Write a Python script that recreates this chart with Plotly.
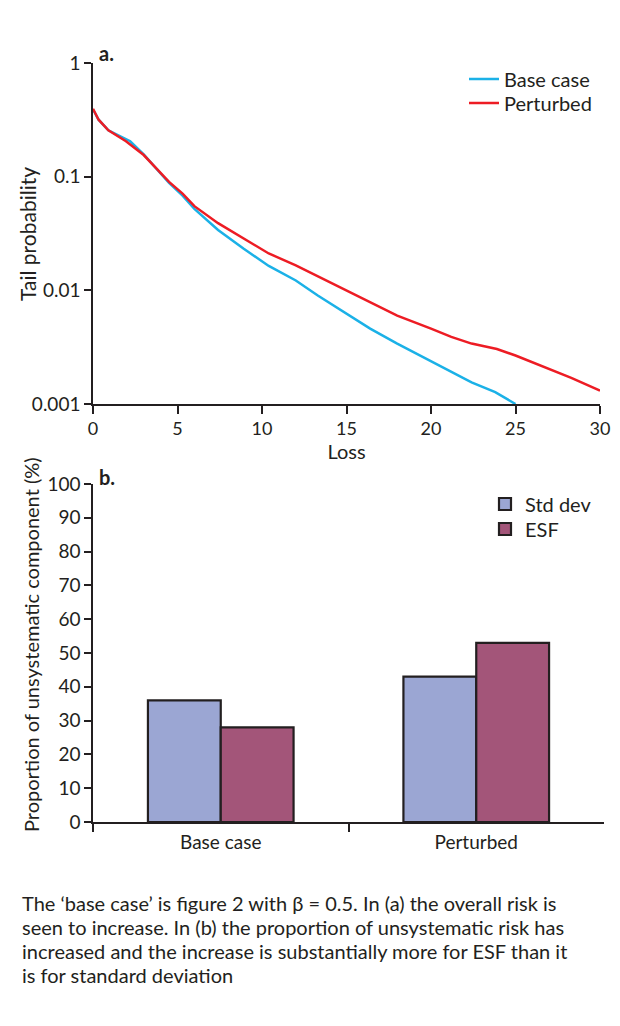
import plotly.graph_objects as go

# ---- Panel a data ----
loss_base = [0, 0.33, 0.91, 1.95, 2.2, 3.0, 4.5, 5.3, 6.0, 7.4, 8.9, 10.4, 12.0, 13.3,
             15.0, 16.4, 18.0, 20.0, 21.2, 22.4, 23.8, 25.0]
tail_base = [0.39, 0.317, 0.256, 0.212, 0.205, 0.157, 0.088, 0.068, 0.052, 0.034, 0.0233,
             0.0164, 0.0122, 0.0090, 0.0062, 0.0046, 0.0034, 0.00237, 0.0019, 0.00155,
             0.00127, 0.001]
loss_pert = [0, 0.33, 0.91, 1.95, 3.0, 4.5, 5.3, 6.0, 7.4, 8.9, 10.4, 12.0, 13.3, 15.0,
             16.4, 18.0, 20.0, 21.2, 22.4, 23.9, 25.0, 26.8, 28.3, 30.0]
tail_pert = [0.396, 0.317, 0.256, 0.205, 0.155, 0.09, 0.071, 0.055, 0.039, 0.0286, 0.0211,
             0.0166, 0.0133, 0.010, 0.0079, 0.0060, 0.0046, 0.0039, 0.0034, 0.00305,
             0.00267, 0.0021, 0.0017, 0.00131]
y_tickvals = [1, 0.1, 0.01, 0.001]
y_ticktext = ["1", "0.1", "0.01", "0.001"]
x_tickvals = [0, 5, 10, 15, 20, 25, 30]

# ---- Panel b data ----
categories = ["Base case", "Perturbed"]
std_dev = [36, 43]
esf = [28, 53]

caption_lines = [
    "The \u2018base case\u2019 is figure 2 with \u03b2 = 0.5. In (a) the overall risk is",
    "seen to increase. In (b) the proportion of unsystematic risk has",
    "increased and the increase is substantially more for ESF than it",
    "is for standard deviation",
]

# page body has an 8px margin, so the figure is sized/placed to compensate
OFF = 8
W, H = 612, 1000
FONT = "Lato"
INK = "#231F20"


def px_y(py):
    return 1 - (py - OFF) / H


def px_x(px):
    return (px - OFF) / W


fig = go.Figure()

fig.add_trace(go.Scatter(x=loss_base, y=tail_base, mode="lines", name="Base case",
                         line=dict(color="#1BB1E7", width=2.5), xaxis="x", yaxis="y",
                         legend="legend"))
fig.add_trace(go.Scatter(x=loss_pert, y=tail_pert, mode="lines", name="Perturbed",
                         line=dict(color="#ED1C24", width=2.5), xaxis="x", yaxis="y",
                         legend="legend2"))

fig.add_trace(go.Bar(x=categories, y=std_dev, name="Std dev",
                     marker=dict(color="#9BA6D3", line=dict(color=INK, width=2.2)),
                     xaxis="x2", yaxis="y2", legend="legend3"))
fig.add_trace(go.Bar(x=categories, y=esf, name="ESF",
                     marker=dict(color="#A35579", line=dict(color=INK, width=2.2)),
                     xaxis="x2", yaxis="y2", legend="legend4"))

axis_common = dict(showline=True, linecolor=INK, linewidth=1.5, ticks="outside",
                   tickcolor=INK, tickwidth=1.5, showgrid=False, zeroline=False,
                   automargin=False,
                   tickfont=dict(family=FONT, size=19, color=INK))

xd_top = [px_x(93), px_x(600)]
xd_bot = [px_x(93), px_x(604)]

annotations = [
    dict(text="<b>a.</b>", x=px_x(97), y=px_y(53), xref="paper", yref="paper",
         xanchor="left", yanchor="middle", showarrow=False,
         font=dict(family=FONT, size=20, color=INK)),
    dict(text="<b>b.</b>", x=px_x(97), y=px_y(477), xref="paper", yref="paper",
         xanchor="left", yanchor="middle", showarrow=False,
         font=dict(family=FONT, size=20, color=INK)),
    # y-axis titles
    dict(text="Tail probability", x=px_x(28), y=px_y(234), xref="paper", yref="paper",
         xanchor="center", yanchor="middle", textangle=-90, showarrow=False,
         font=dict(family=FONT, size=21, color=INK)),
    dict(text="Proportion of unsystematic component (%)", x=px_x(31), y=px_y(645),
         xref="paper", yref="paper", xanchor="center", yanchor="middle", textangle=-90,
         showarrow=False, font=dict(family=FONT, size=20, color=INK)),
]
for line, cy in zip(caption_lines, [903, 927, 951, 975]):
    annotations.append(dict(text=line, x=px_x(20), y=px_y(cy), xref="paper", yref="paper",
                            xanchor="left", yanchor="middle", showarrow=False,
                            font=dict(family=FONT, size=20, color=INK)))


def leg(xpx, ypx):
    return dict(x=px_x(xpx), y=px_y(ypx), xanchor="left", yanchor="middle",
                font=dict(family=FONT, size=20, color=INK), bgcolor="rgba(0,0,0,0)",
                tracegroupgap=0)


fig.update_layout(
    template="none",
    width=W, height=H,
    margin=dict(l=0, r=0, t=0, b=0, autoexpand=False),
    paper_bgcolor="white", plot_bgcolor="white",
    font=dict(family=FONT, color=INK),
    barmode="group", bargap=0.43, bargroupgap=0,
    showlegend=True,
    xaxis=dict(axis_common, domain=xd_top, range=[0, 30], tickvals=x_tickvals, ticklen=8,
               anchor="y", tickfont=dict(family=FONT, size=18, color=INK),
               title=dict(text="Loss", font=dict(family=FONT, size=20, color=INK), standoff=4)),
    yaxis=dict(axis_common, domain=[px_y(404), px_y(63)], type="log", range=[-3, 0],
               tickvals=y_tickvals, ticktext=y_ticktext, ticklen=7, anchor="x"),
    xaxis2=dict(axis_common, domain=xd_bot, anchor="y2", tickson="boundaries", ticklen=8,
                ticklabelstandoff=2),
    yaxis2=dict(axis_common, domain=[px_y(822), px_y(484)], range=[0, 100], dtick=10,
                ticklen=7, anchor="x2"),
    legend=leg(464, 79),
    legend2=leg(464, 103),
    legend3=leg(485, 504),
    legend4=leg(485, 529),
    annotations=annotations,
)

fig.write_html("out.html")
